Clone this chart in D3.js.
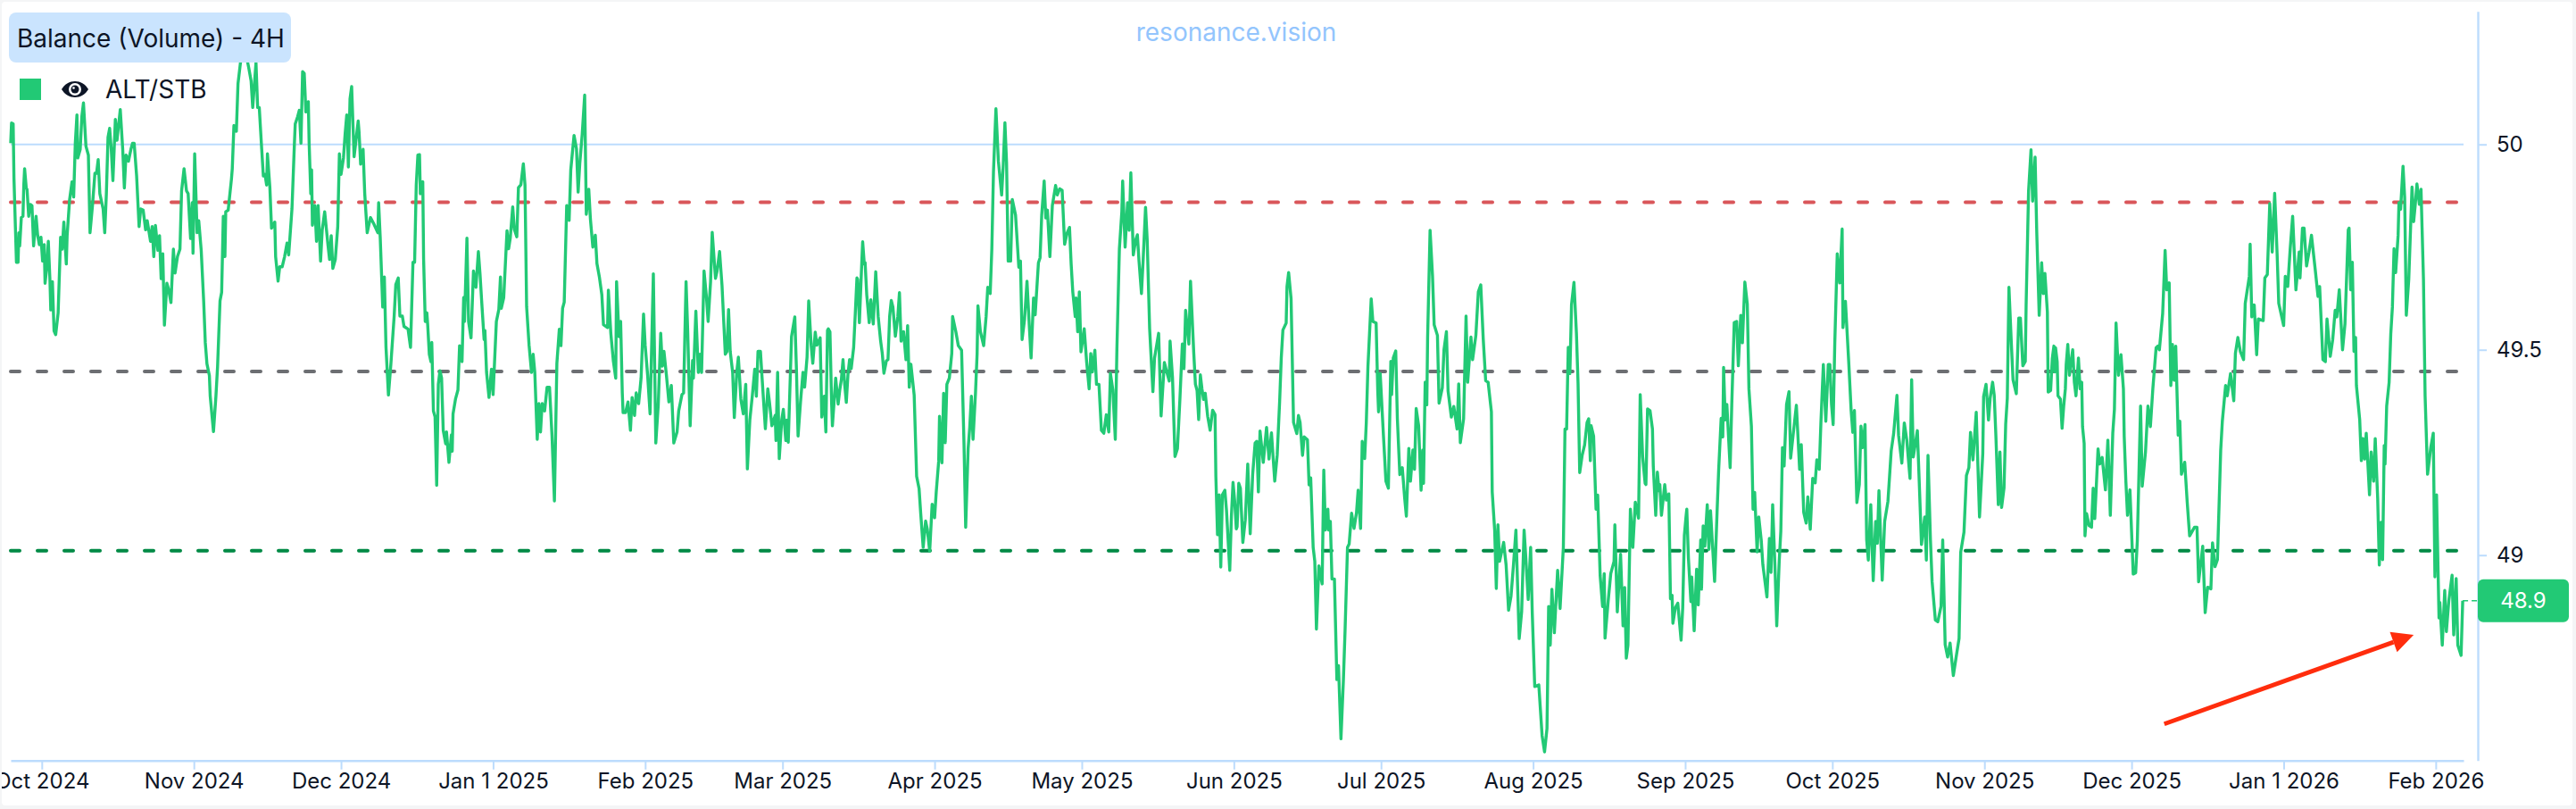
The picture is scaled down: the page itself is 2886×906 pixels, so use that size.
<!DOCTYPE html>
<html>
<head>
<meta charset="utf-8">
<script src="https://cdn.jsdelivr.net/npm/d3@7/dist/d3.min.js"></script>
<style>
    html, body { margin: 0; padding: 0; background: #f4f5f6; }
    svg { display: block; }
    text { font-family: Inter, sans-serif; }
</style>
</head>
<body>
<div id="chart"></div>
<script>
// bar index = number of 4H candles since the first one
var bars1 = [0,1,3,4,7,9,10,11,13,15,16,17,19,20,22,24,26,28,31,33,35,37,39,41,42,44,46,48,49,51,53,55,58,61,63,65,68,69,72,75,77,79,81,82,85,87,89,92,95,97,100,103,105,107,109,113,115,117,119,121,123,125,128,130,134,137,139,141,144,147,149,151,154,157,159,162,165,167,171,173,175,177,180,182,184,186,188,191,193,196,199,201,204,207,209,212,215,217,220,222,223,225,228,230,233,236,238,240,243,244,248,251,253,256,258,260,262,263,266,270,271,273,276,278,281,284,287,291,294,296,300,302,304,307,309,311,313,314,317,319,323,324,327,329,332,335,338,340,344,347,348,351,353,355,357,359,361,364,365,367,368,369,372,374,376,379,381,384,388,390,392,394,397,400,402,404,407,409,411,413,415,417,420,425,426,428,431,433,436,440,444,449,450,452,455,457,459,462,465,469,471,474,476,479,481,486,489,492,494,496,498];
var vals1 = [50.003,50.052,50.05,49.916,49.713,49.713,49.785,49.753,49.822,49.825,49.901,49.941,49.894,49.89,49.825,49.854,49.851,49.753,49.825,49.778,49.756,49.774,49.716,49.756,49.662,49.698,49.764,49.669,49.597,49.666,49.546,49.537,49.59,49.774,49.745,49.811,49.709,49.778,49.865,49.909,49.872,50.003,50.072,49.967,49.988,50.068,50.101,49.996,49.974,49.785,49.851,49.93,49.93,49.963,49.88,49.843,49.785,49.88,50.017,50.039,49.988,49.912,50.061,50.01,50.085,49.988,49.894,49.974,49.959,49.988,50.003,50.003,49.923,49.8,49.843,49.84,49.792,49.814,49.764,49.8,49.727,49.803,49.742,49.778,49.673,49.734,49.56,49.662,49.648,49.615,49.745,49.687,49.727,49.745,49.887,49.941,49.887,49.88,49.771,49.858,49.735,49.977,49.785,49.814,49.742,49.619,49.517,49.466,49.437,49.387,49.301,49.387,49.459,49.619,49.64,49.825,49.727,49.836,49.84,49.916,49.941,50.046,50.032,50.148,50.199,50.213,50.227,50.188,50.155,50.09,50.199,50.09,50.09,49.988,49.923,49.927,49.901,49.977,49.894,49.796,49.811,49.727,49.667,49.702,49.702,49.727,49.76,49.731,49.843,50.003,50.05,50.068,50.083,50.003,50.177,50.173,50.079,50.104,50.003,49.88,49.938,49.803,49.851,49.764,49.851,49.716,49.792,49.836,49.756,49.72,49.778,49.698,49.72,49.8,49.977,49.927,49.967,50.025,50.072,49.945,50.111,50.141,49.97,50.057,50.032,49.952,49.988,49.88,49.785,49.822,49.807,49.785,49.858,49.771,49.604,49.677,49.506,49.39,49.466,49.582,49.659,49.675,49.582,49.582,49.557,49.55,49.506,49.713,49.713,49.901,49.974];

var bars2 = [500,501,504,505,507,509,510,512,514,515,517,519,521,523,525,527,529,532,533,536,539,540,541,544,547,549,552,554,555,558,560,563,566,569,572,574,576,579,580,582,585,588,590,594,597,599,600,603,607,609,611,614,616,619,621,624,627,629,631,634,637,639,641,644,646,648,650,653,656,659,662,665,668,671,673,675,677,680,683,685,689,692,694,696,699,702,704,707,709,712,715,717,720,723,725,730,731,734,737,740,741,744,746,748,749,752,755,758,760,763,765,768,771,774,776,779,782,786,789,792,795,797,799,802,805,808,811,815,817,821,823,826,828,831,834,835,838,841,843,845,848,851,853,856,858,862,864,867,870,874,876,878,880,883,885,888,890,893,896,899,901,904,907,910,912,914,917,919,923,926,928,931,935,936,938,940,943,945,948,949,951,955,959,961,963,966,969,971,974,976,979,981,984,986,990,992,995,997,999];
var vals2 = [49.975,49.88,49.909,49.721,49.569,49.59,49.561,49.489,49.471,49.518,49.351,49.337,49.17,49.416,49.449,49.431,49.304,49.271,49.3,49.226,49.293,49.253,49.344,49.38,49.402,49.51,49.471,49.627,49.569,49.772,49.569,49.529,49.692,49.652,49.739,49.685,49.619,49.525,49.547,49.445,49.384,49.453,49.391,49.569,49.598,49.677,49.601,49.627,49.79,49.746,49.772,49.848,49.793,49.775,49.895,49.902,49.953,49.902,49.605,49.511,49.445,49.489,49.445,49.282,49.369,49.3,49.369,49.351,49.409,49.409,49.293,49.132,49.467,49.55,49.51,49.601,49.616,49.851,49.815,49.938,50.022,49.989,49.884,49.953,50.025,50.12,49.83,49.891,49.819,49.75,49.779,49.71,49.677,49.634,49.561,49.554,49.645,49.54,49.474,49.431,49.666,49.532,49.569,49.395,49.347,49.347,49.373,49.304,49.384,49.34,49.395,49.369,49.431,49.587,49.511,49.438,49.344,49.685,49.273,49.366,49.54,49.46,49.496,49.438,49.373,49.413,49.273,49.3,49.351,49.391,49.395,49.666,49.547,49.315,49.474,49.431,49.594,49.445,49.489,49.445,49.692,49.627,49.569,49.666,49.786,49.674,49.692,49.739,49.656,49.489,49.496,49.598,49.496,49.445,49.335,49.445,49.482,49.38,49.344,49.416,49.21,49.329,49.387,49.453,49.387,49.496,49.496,49.431,49.308,49.405,49.373,49.315,49.34,49.279,49.445,49.235,49.329,49.355,49.279,49.329,49.275,49.532,49.58,49.453,49.29,49.373,49.445,49.409,49.482,49.619,49.511,49.467,49.543,49.511,49.529,49.336,49.387,49.3,49.547];

var bars3 = [1000,1002,1004,1005,1007,1009,1012,1014,1016,1018,1020,1022,1024,1026,1028,1031,1033,1035,1036,1038,1041,1042,1044,1045,1047,1050,1052,1055,1056,1058,1061,1064,1066,1068,1071,1073,1075,1077,1079,1082,1085,1087,1089,1092,1095,1097,1099,1101,1105,1108,1111,1113,1116,1119,1121,1124,1127,1130,1132,1135,1136,1139,1141,1143,1145,1148,1151,1152,1156,1159,1163,1166,1168,1171,1173,1175,1177,1180,1182,1183,1186,1190,1193,1195,1198,1200,1202,1205,1208,1210,1212,1214,1216,1218,1220,1223,1225,1229,1233,1235,1237,1240,1243,1246,1248,1251,1253,1257,1259,1261,1264,1266,1268,1271,1274,1278,1280,1283,1286,1289,1292,1295,1297,1299,1302,1303,1305,1307,1309,1313,1316,1319,1321,1323,1326,1328,1331,1334,1337,1340,1343,1345,1348,1351,1353,1356,1359,1360,1363,1366,1368,1370,1373,1376,1378,1380,1383,1385,1388,1390,1393,1397,1399,1404,1407,1411,1414,1417,1418,1421,1424,1427,1430,1433,1435,1437,1441,1443,1447,1449,1451,1453,1455,1457,1459,1461,1464,1467,1470,1473,1474,1476,1478,1480,1482,1485,1487,1491,1493,1495,1497,1499];
var vals3 = [49.551,49.544,49.372,49.315,49.372,49.431,49.368,49.402,49.428,49.476,49.416,49.372,49.439,49.476,49.454,49.506,49.589,49.675,49.671,49.566,49.716,49.763,49.709,49.712,49.634,49.566,49.622,49.563,49.604,49.69,49.581,49.521,49.491,49.443,49.473,49.476,49.581,49.62,49.604,49.533,49.581,49.639,49.521,49.544,49.476,49.559,49.409,49.465,49.39,49.192,49.162,49.102,49.019,49.083,49.064,49.01,49.124,49.091,49.154,49.229,49.338,49.225,49.394,49.274,49.416,49.431,49.491,49.581,49.544,49.51,49.499,49.267,49.068,49.259,49.312,49.387,49.282,49.394,49.491,49.607,49.544,49.51,49.581,49.652,49.637,49.746,49.933,50.087,49.96,49.918,49.877,49.952,50.053,49.956,49.716,49.716,49.866,49.828,49.701,49.716,49.525,49.574,49.667,49.551,49.48,49.626,49.585,49.712,49.724,49.828,49.911,49.821,49.84,49.727,49.851,49.9,49.877,49.892,49.888,49.757,49.784,49.798,49.709,49.641,49.581,49.626,49.544,49.641,49.495,49.551,49.469,49.405,49.491,49.446,49.499,49.416,49.416,49.304,49.297,49.342,49.3,49.443,49.402,49.282,49.506,49.746,49.836,49.911,49.75,49.858,49.791,49.931,49.731,49.768,49.78,49.716,49.637,49.716,49.847,49.768,49.551,49.398,49.48,49.54,49.339,49.469,49.446,49.424,49.521,49.431,49.24,49.259,49.379,49.514,49.454,49.596,49.514,49.667,49.491,49.416,49.401,49.33,49.439,49.405,49.379,49.394,49.338,49.304,49.353,49.342,49.192,49.05,49.147,48.971,49.147,49.158,49.109,48.963,49.094,49.177,49.132,49.064];

var bars4 = [1500,1502,1504,1507,1510,1513,1516,1519,1522,1524,1526,1528,1532,1536,1539,1542,1546,1549,1552,1554,1556,1560,1561,1563,1566,1569,1573,1575,1577,1580,1582,1586,1588,1590,1593,1595,1597,1600,1604,1606,1608,1611,1612,1614,1616,1619,1622,1624,1627,1630,1632,1635,1637,1640,1643,1646,1648,1651,1653,1656,1658,1660,1664,1666,1670,1672,1673,1675,1679,1682,1685,1688,1689,1691,1694,1696,1699,1702,1705,1707,1710,1712,1715,1717,1719,1722,1725,1727,1728,1730,1732,1733,1736,1739,1741,1745,1747,1751,1753,1756,1758,1762,1765,1769,1771,1773,1777,1780,1782,1786,1788,1792,1795,1798,1801,1804,1807,1811,1812,1815,1817,1819,1821,1826,1829,1832,1835,1838,1841,1845,1848,1851,1853,1856,1859,1861,1864,1869,1873,1876,1879,1881,1883,1885,1888,1892,1895,1899,1901,1903,1905,1907,1909,1912,1915,1917,1919,1922,1925,1928,1930,1932,1933,1936,1939,1941,1944,1947,1949,1950,1954,1957,1961,1962,1965,1969,1972,1974,1976,1978,1981,1984,1987,1991,1993,1996,1999];
var vals4 = [49.069,49.175,49.163,49.031,49.086,49.222,49.052,49.196,49.273,49.277,49.154,49.302,49.226,49.311,49.234,49.298,49.18,49.243,49.374,49.48,49.548,49.565,49.654,49.688,49.624,49.323,49.296,49.34,49.323,49.243,49.288,49.281,49.171,49.188,49.019,48.985,48.82,48.974,48.93,49.207,49.061,49.112,49.061,49.082,48.942,48.942,48.697,48.731,48.553,48.697,48.815,49.019,49.027,49.102,49.065,49.103,49.158,49.065,49.277,49.235,49.323,49.459,49.624,49.569,49.565,49.4,49.349,49.442,49.29,49.18,49.163,49.472,49.391,49.48,49.497,49.332,49.196,49.213,49.137,49.095,49.26,49.18,49.256,49.209,49.357,49.315,49.158,49.256,49.175,49.421,49.366,49.531,49.791,49.679,49.561,49.535,49.37,49.408,49.5,49.544,49.4,49.336,49.362,49.307,49.417,49.274,49.332,49.582,49.421,49.531,49.476,49.535,49.641,49.658,49.527,49.425,49.421,49.349,49.154,49.061,48.919,49.074,48.985,49.031,48.976,48.866,48.9,48.976,49.061,48.797,48.862,49.061,48.997,48.892,49.019,48.858,48.68,48.684,48.561,48.521,48.578,48.875,48.781,48.917,48.811,48.963,48.87,49.019,49.307,49.307,49.506,49.442,49.61,49.664,49.54,49.417,49.201,49.243,49.268,49.323,49.332,49.23,49.315,49.29,49.112,49.146,48.951,48.875,48.955,48.798,48.892,48.955,48.985,49.074,48.862,49.002,48.828,48.921,48.749,48.781,49.112,49.019,49.129,49.09,49.391,49.239,49.175];

var bars5 = [2000,2002,2005,2008,2009,2012,2014,2016,2017,2019,2023,2025,2028,2030,2032,2033,2036,2039,2043,2045,2047,2049,2050,2052,2055,2056,2059,2062,2064,2067,2068,2070,2072,2075,2077,2079,2084,2087,2089,2092,2094,2095,2097,2099,2103,2105,2108,2111,2113,2116,2118,2121,2124,2126,2129,2131,2133,2136,2138,2141,2143,2148,2151,2153,2155,2158,2160,2163,2165,2167,2169,2172,2175,2177,2180,2184,2188,2190,2193,2196,2198,2201,2204,2207,2209,2212,2214,2217,2220,2223,2225,2227,2229,2231,2234,2237,2240,2241,2244,2248,2251,2253,2255,2258,2261,2263,2265,2268,2270,2272,2275,2278,2281,2283,2285,2289,2292,2296,2300,2303,2307,2309,2313,2316,2319,2323,2325,2327,2332,2334,2337,2341,2343,2345,2348,2350,2354,2357,2361,2363,2366,2369,2372,2376,2380,2383,2385,2389,2392,2395,2397,2400,2404,2408,2412,2413,2416,2419,2421,2424,2426,2428,2431,2433,2435,2438,2440,2442,2444,2447,2449,2453,2456,2458,2461,2464,2465,2468,2471,2473,2476,2478,2481,2484,2486,2488,2491,2492,2495,2497,2499];
var vals5 = [49.172,49.356,49.352,49.307,49.217,49.097,49.202,49.157,49.172,49.097,49.172,49.134,49.149,48.894,48.902,48.834,48.872,48.883,48.793,48.872,49.048,49.093,49.112,48.992,48.887,48.947,48.816,48.966,48.879,49.037,48.917,49.071,49.022,49.123,49.014,49.108,48.936,49.104,49.209,49.333,49.288,49.457,49.329,49.367,49.213,49.367,49.566,49.569,49.461,49.584,49.517,49.665,49.611,49.404,49.314,49.112,49.153,49.008,49.093,49.037,48.977,48.898,49.041,48.958,49.123,48.962,48.828,48.984,49.059,49.262,49.217,49.367,49.398,49.236,49.292,49.365,49.209,49.269,49.104,49.078,49.142,49.063,49.187,49.176,49.232,49.209,49.322,49.464,49.326,49.464,49.464,49.367,49.318,49.517,49.734,49.663,49.794,49.554,49.618,49.472,49.352,49.299,49.352,49.128,49.172,49.314,49.262,49.318,49.037,48.988,49.123,48.938,49.082,49.029,49.157,48.939,49.082,49.131,49.254,49.296,49.389,49.292,49.224,49.322,49.281,49.187,49.427,49.239,49.303,49.194,49.026,49.093,48.988,49.243,49.037,48.936,48.842,48.838,48.876,49.037,48.782,48.752,48.786,48.707,48.759,48.797,49.007,49.056,49.194,49.213,49.299,49.232,49.348,49.093,49.247,49.386,49.416,49.329,49.382,49.421,49.389,49.292,49.123,49.251,49.116,49.164,49.318,49.382,49.652,49.513,49.427,49.393,49.577,49.577,49.461,49.472,49.607,49.886,49.987,49.862,49.969,49.787,49.584,49.712,49.637,49.686,49.592,49.397,49.401,49.479,49.509];

var bars6 = [2500,2501,2503,2504,2507,2509,2511,2513,2514,2516,2518,2520,2522,2524,2526,2529,2531,2533,2534,2536,2537,2539,2542,2545,2547,2549,2553,2555,2558,2562,2565,2568,2571,2573,2575,2578,2581,2584,2585,2587,2589,2592,2596,2599,2601,2605,2607,2611,2614,2617,2620,2624,2626,2628,2632,2633,2635,2637,2640,2642,2644,2646,2648,2651,2653,2655,2659,2662,2665,2671,2674,2676,2681,2684,2687,2691,2693,2696,2699,2703,2705,2709,2711,2715,2719,2721,2724,2727,2731,2733,2738,2739,2741,2744,2747,2749,2755,2757,2760,2763,2766,2769,2772,2774,2780,2782,2785,2788,2791,2795,2799,2800,2803,2805,2808,2811,2814,2819,2822,2824,2828,2831,2833,2837,2840,2843,2845,2848,2852,2855,2859,2860,2862,2864,2866,2868,2869,2873,2875,2877,2879,2881,2885,2887,2890,2892,2895,2897,2899,2901,2903,2904,2906,2909,2911,2913,2915,2917,2920,2921,2923,2926,2928,2930,2933,2937,2939,2941,2943,2946,2948,2951,2953,2956,2960,2963,2965,2967,2970,2971,2974,2977,2979,2982,2986,2988,2991,2993,2997,2999];
var vals6 = [49.446,49.505,49.471,49.388,49.38,49.309,49.363,49.405,49.463,49.513,49.438,49.471,49.5,49.421,49.388,49.48,49.405,49.421,49.313,49.272,49.047,49.101,49.072,49.068,49.163,49.089,49.259,49.222,49.238,49.159,49.28,49.097,49.297,49.355,49.565,49.438,49.488,49.405,49.288,49.18,49.097,49.159,48.954,48.957,49.034,49.363,49.168,49.251,49.363,49.313,49.405,49.505,49.509,49.5,49.588,49.638,49.742,49.646,49.663,49.413,49.513,49.426,49.509,49.292,49.326,49.197,49.226,49.13,49.047,49.068,49.068,48.935,49.022,48.86,48.922,48.918,49.03,48.972,48.989,49.255,49.326,49.413,49.388,49.442,49.376,49.492,49.53,49.496,49.476,49.613,49.679,49.757,49.58,49.609,49.488,49.575,49.571,49.675,49.683,49.856,49.738,49.881,49.733,49.613,49.559,49.679,49.654,49.746,49.825,49.646,49.738,49.675,49.796,49.796,49.704,49.738,49.779,49.688,49.63,49.654,49.476,49.471,49.575,49.484,49.525,49.596,49.58,49.646,49.5,49.563,49.792,49.796,49.646,49.713,49.496,49.53,49.413,49.33,49.23,49.284,49.234,49.297,49.147,49.251,49.18,49.284,49.138,48.976,49.08,48.989,49.267,49.222,49.363,49.421,49.538,49.604,49.746,49.688,49.779,49.858,49.842,49.947,49.871,49.584,49.671,49.896,49.812,49.854,49.904,49.854,49.891,49.671,49.388,49.197,49.263,49.297,48.947,49.147,48.847,48.885,48.781,48.914,48.814,48.889,48.951,48.806,48.943,48.781,48.756,48.889];

var tickDates = ['2024-10-01','2024-11-01','2024-12-01','2025-01-01','2025-02-01','2025-03-01','2025-04-01','2025-05-01','2025-06-01','2025-07-01','2025-08-01','2025-09-01','2025-10-01','2025-11-01','2025-12-01','2026-01-01','2026-02-01'];
var tickLabels = ['Oct 2024','Nov 2024','Dec 2024','Jan 1 2025','Feb 2025','Mar 2025','Apr 2025','May 2025','Jun 2025','Jul 2025','Aug 2025','Sep 2025','Oct 2025','Nov 2025','Dec 2025','Jan 1 2026','Feb 2026'];
var yTicks = [49, 49.5, 50];
var refValues = [49.859, 49.447, 49.011];
var refColors = ['#d9565a', '#6c6e72', '#008a45'];
var lastValue = 48.889;
// annotation arrow, [bar, value]
var arrowFrom = [2634, 48.589];
var arrowTo = [2939, 48.806];

var W = 2886, H = 906;
var GREEN = '#22c975', BLUE = '#bcdcfd', INK = '#0d1526';
var firstBar = Date.UTC(2024, 8, 24, 16);
var barMs = 4 * 3600 * 1000;

function barTime(i) {
    return new Date(firstBar + i * barMs);
}

var bars = d3.merge([bars1, bars2, bars3, bars4, bars5, bars6]);
var vals = d3.merge([vals1, vals2, vals3, vals4, vals5, vals6]);

var x = d3.scaleUtc().domain([barTime(0), barTime(3000)]).range([12, 2760]);
var y = d3.scaleLinear().domain([48.5, 50.324]).range([851.7, 12.7]);

var svg = d3.select('#chart').append('svg').attr('width', W).attr('height', H);

svg.append('defs').append('clipPath').attr('id', 'card')
   .append('rect').attr('x', 2).attr('y', 2).attr('width', 2880).attr('height', 900);

svg.append('rect').attr('x', 2).attr('y', 2).attr('width', 2880).attr('height', 900)
   .attr('rx', 4).attr('fill', '#fff');

// 50 grid line
svg.append('line').attr('x1', 12).attr('x2', 2760).attr('y1', y(50)).attr('y2', y(50))
   .attr('stroke', BLUE).attr('stroke-width', 2);

svg.selectAll('.ref').data(refValues).enter().append('line')
   .attr('class', 'ref')
   .attr('x1', 12).attr('x2', 2755)
   .attr('y1', function (d) { return y(d); })
   .attr('y2', function (d) { return y(d); })
   .attr('stroke', function (d, i) { return refColors[i]; })
   .attr('stroke-width', 4)
   .attr('stroke-linecap', 'round')
   .attr('stroke-dasharray', '10 20');

var line = d3.line()
    .x(function (d) { return x(barTime(d)); })
    .y(function (d, i) { return y(vals[i]); });

svg.append('path').attr('d', line(bars))
   .attr('fill', 'none').attr('stroke', GREEN).attr('stroke-width', 3.4)
   .attr('stroke-linejoin', 'round');

// last value dashes up to the axis
svg.append('line')
   .attr('x1', x(barTime(2999))).attr('x2', 2776)
   .attr('y1', y(lastValue)).attr('y2', y(lastValue))
   .attr('stroke', GREEN).attr('stroke-width', 1.5).attr('stroke-dasharray', '6 4');

// axes
var xAxis = d3.axisBottom(x)
    .tickValues(tickDates.map(function (d) { return new Date(d + 'T00:00:00Z'); }))
    .tickFormat(function (d, i) { return tickLabels[i]; })
    .tickSizeInner(10).tickSizeOuter(0).tickPadding(4);
var gx = svg.append('g').attr('transform', 'translate(0,851.7)').attr('clip-path', 'url(#card)').call(xAxis);

var yAxis = d3.axisRight(y).tickValues(yTicks).tickFormat(d3.format('')).tickSizeInner(10).tickSizeOuter(0).tickPadding(11);
var gy = svg.append('g').attr('transform', 'translate(2776,0)').call(yAxis);

[gx, gy].forEach(function (g) {
    g.select('.domain').attr('stroke', BLUE).attr('stroke-width', 2.4);
    g.selectAll('.tick line').attr('stroke', BLUE).attr('stroke-width', 2);
    g.selectAll('.tick text').attr('fill', INK).style('font-size', '24px').style('font-family', 'Inter, sans-serif');
});
gx.attr('clip-path', null);
gx.selectAll('.tick text').attr('clip-path', null);
gx.attr('clip-path', 'url(#gxclip)');
svg.select('defs').append('clipPath').attr('id', 'gxclip')
   .append('rect').attr('x', 2).attr('y', -10).attr('width', 2880).attr('height', 60);

// last value label
svg.append('rect').attr('x', 2776).attr('y', y(lastValue) - 24).attr('width', 102).attr('height', 48)
   .attr('rx', 6).attr('fill', GREEN);
svg.append('text').attr('x', 2827).attr('y', y(lastValue)).attr('dy', '.35em')
   .attr('text-anchor', 'middle').attr('fill', '#fff').style('font-size', '24px')
   .text(d3.format('.1f')(lastValue));

// watermark
svg.append('text').attr('x', 1385).attr('y', 36).attr('dy', '.35em')
   .attr('text-anchor', 'middle').attr('fill', '#93c5fd').style('font-size', '28px')
   .text('resonance.vision');

// title and legend
svg.append('rect').attr('x', 10).attr('y', 14).attr('width', 316).attr('height', 56)
   .attr('rx', 8).attr('fill', '#cae4fe');
svg.append('text').attr('x', 19).attr('y', 43).attr('dy', '.35em')
   .attr('fill', INK).style('font-size', '28px').text('Balance (Volume) - 4H');
svg.append('rect').attr('x', 22).attr('y', 88).attr('width', 24).attr('height', 24).attr('fill', GREEN);
svg.append('path').attr('d', 'M69 100C76 88 92 88 99 100C92 112 76 112 69 100Z').attr('fill', INK);
svg.append('circle').attr('cx', 84).attr('cy', 100).attr('r', 7).attr('fill', '#fff');
svg.append('circle').attr('cx', 84).attr('cy', 100).attr('r', 4.5).attr('fill', INK);
svg.append('circle').attr('cx', 82.5).attr('cy', 98.5).attr('r', 1.3).attr('fill', '#fff');
svg.append('text').attr('x', 118).attr('y', 100).attr('dy', '.35em')
   .attr('fill', INK).style('font-size', '28px').text('ALT/STB');

// red arrow
var ax0 = x(barTime(arrowFrom[0])), ay0 = y(arrowFrom[1]);
var ax1 = x(barTime(arrowTo[0])), ay1 = y(arrowTo[1]);
var len = Math.sqrt((ax1 - ax0) * (ax1 - ax0) + (ay1 - ay0) * (ay1 - ay0));
var ux = (ax1 - ax0) / len, uy = (ay1 - ay0) / len;
var bx = ax1 - ux * 24, by = ay1 - uy * 24;
svg.append('line').attr('x1', ax0).attr('y1', ay0).attr('x2', bx).attr('y2', by)
   .attr('stroke', '#ff2d0d').attr('stroke-width', 5);
svg.append('polygon').attr('fill', '#ff2d0d')
   .attr('points', [[ax1, ay1], [bx - uy * 12, by + ux * 12], [bx + uy * 12, by - ux * 12]].join(' '));
</script>
</body>
</html>
